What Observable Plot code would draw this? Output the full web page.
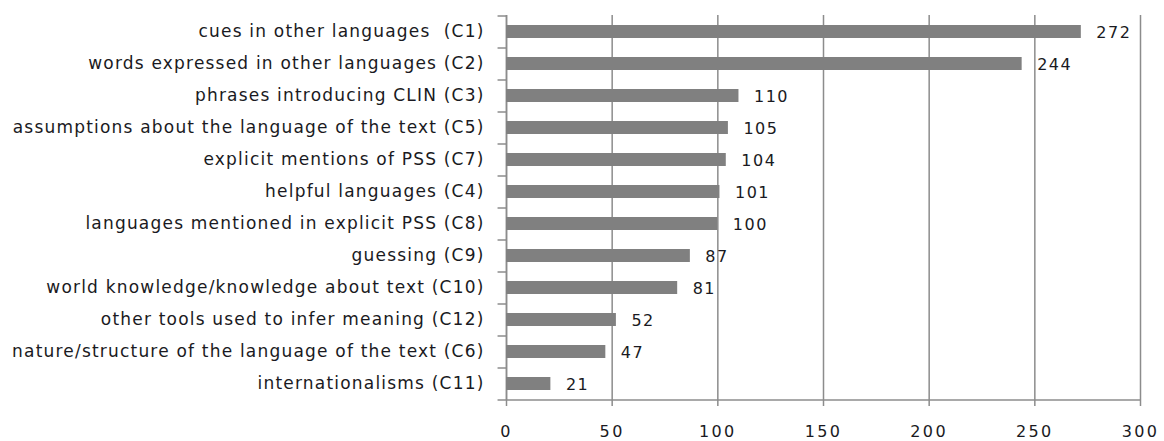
<!DOCTYPE html>
<html><head><meta charset="utf-8">
<script src="https://cdn.jsdelivr.net/npm/d3@7"></script>
<script src="https://cdn.jsdelivr.net/npm/@observablehq/plot@0.6"></script>
<style>
body{margin:0;background:#fff}
g[aria-label="y-axis tick label"] text{letter-spacing:1.2px}
g[aria-label="x-axis tick label"] text{letter-spacing:2.4px}
g[aria-label="text"] text{letter-spacing:1.5px}
</style>
</head><body><div id="chart"></div>
<script>
const categories = [
  "cues in other languages  (C1)",
  "words expressed in other languages (C2)",
  "phrases introducing CLIN (C3)",
  "assumptions about the language of the text (C5)",
  "explicit mentions of PSS (C7)",
  "helpful languages (C4)",
  "languages mentioned in explicit PSS (C8)",
  "guessing (C9)",
  "world knowledge/knowledge about text (C10)",
  "other tools used to infer meaning (C12)",
  "nature/structure of the language of the text (C6)",
  "internationalisms (C11)"
];
const values = [272, 244, 110, 105, 104, 101, 100, 87, 81, 52, 47, 21];
const xTicks = [0, 50, 100, 150, 200, 250, 300];

const data = categories.map((c, i) => ({label: c, value: values[i]}));
const gray = "#8c8c8c";
const font = "'DejaVu Sans', sans-serif";

const chart = Plot.plot({
  width: 1164,
  height: 441,
  marginLeft: 506,
  marginRight: 24,
  marginTop: 15,
  marginBottom: 41,
  style: {fontFamily: font, color: "#1a1a22", background: "#fff"},
  x: {domain: [0, 300], ticks: xTicks, label: null},
  y: {domain: categories, paddingInner: 0.6, paddingOuter: 0.3, label: null},
  marks: [
    Plot.gridX(xTicks, {stroke: gray, strokeOpacity: 1, strokeWidth: 1.5}),
    Plot.ruleX([0], {stroke: gray, strokeWidth: 1.5}),
    Plot.ruleY(categories, {y: d => d, x1: -4, x2: 0, dy: -16, stroke: gray, strokeWidth: 1.5}),
    Plot.ruleY(categories.slice(-1), {y: d => d, x1: -4, x2: 300, dy: 16, stroke: gray, strokeWidth: 1.5}),
    Plot.barX(data, {x: "value", y: "label", fill: "#808080"}),
    Plot.text(data, {x: "value", y: "label", text: d => String(d.value), textAnchor: "start", dx: 15, dy: 1, fontSize: 16, fill: "#1a1a22"}),
    Plot.axisY({tickSize: 0, tickPadding: 22, fontSize: 17, label: null}),
    Plot.axisX({ticks: xTicks, tickSize: 6, tickPadding: 19, fontSize: 16, label: null, stroke: gray, strokeWidth: 1.5})
  ]
});
document.getElementById("chart").appendChild(chart);
</script></body></html>
